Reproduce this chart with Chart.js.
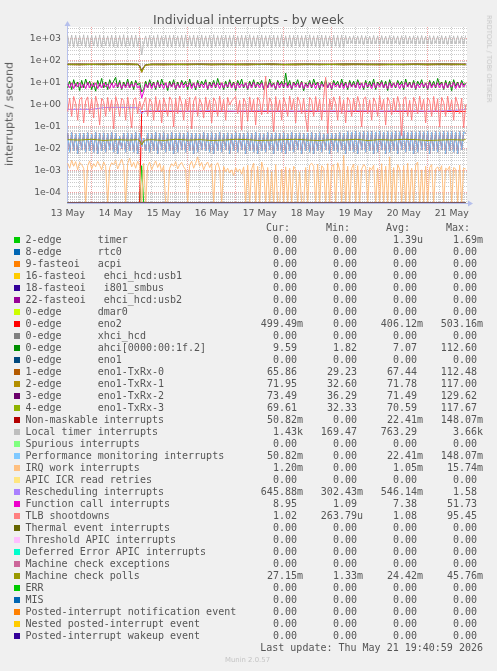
<!DOCTYPE html>
<html>
<head>
<meta charset="utf-8">
<title>Individual interrupts - by week</title>
<script src="https://cdn.jsdelivr.net/npm/chart.js@4.4.1/dist/chart.umd.min.js"></script>
<style>
  html, body { margin:0; padding:0; background:#f0f0f0; }
  #page { position:relative; width:497px; height:671px; overflow:hidden; background:#f0f0f0; }
  #chart { position:absolute; left:0; top:0; }
  .txt { position:absolute; white-space:pre; font-family:"DejaVu Sans", sans-serif; color:#555; }
  .mono { position:absolute; white-space:pre; font-family:"DejaVu Sans Mono", monospace; font-size:10px; line-height:11.64px; color:#555; }
  .sw { position:absolute; width:6px; height:6px; }
</style>
</head>
<body>
<div id="page">
  <canvas id="chart" width="497" height="671"></canvas>
  <div class="txt" style="left:0;width:497px;text-align:center;top:12.9px;font-size:12.5px;line-height:14.55px;color:#555;">Individual interrupts - by week</div>
  <div class="txt" style="left:10px;top:114px;font-size:11px;line-height:12.8px;transform:translate(-50%,-50%) rotate(-90deg);">interrupts / second</div>
  <div class="txt" style="left:488px;top:58.5px;font-size:6.8px;line-height:7.9px;color:#c8c8c8;transform:translate(-50%,-50%) rotate(90deg);">RRDTOOL / TOBI OETIKER</div>
  <div id="legend"></div>
  <div class="txt" style="left:0;width:495px;text-align:center;top:656.3px;font-size:6.9px;line-height:8px;color:#c4c4c4;">Munin 2.0.57</div>
</div>
<script>
// ---------------- time axis (hours since 13 May 00:00) ----------------
const X_MIN = 11 + 40 / 60;          // 13 May 11:40
const X_MAX = 211 + 40 / 60;         // 21 May 19:40
const HOUR0 = 12;                    // first hourly sample: 13 May 12:00
const dayLabels = ["13 May", "14 May", "15 May", "16 May", "17 May", "18 May", "19 May", "20 May", "21 May"];
const yDecades = [-5, -4, -3, -2, -1, 0, 1, 2, 3];
const Y_MIN = Math.pow(10, -4.47);
const Y_MAX = Math.pow(10, 3.546);

// ---------------- hourly series (200 samples, 13 May 12:00 .. 21 May 19:00) ----------------
const localTimer = [
  1450,470,1520,430,1480,460,1400,500,1550,440,1460,420,1500,480,1420,450,1530,430,
  1470,490,1390,460,1510,440,1480,420,1440,470,1560,450,1400,480,1490,430,1520,460,
  1300,190,650,
  1380,450,1490,470,1430,420,1550,460,1410,490,
  1500,440,1460,430,1520,470,1390,450,1480,420,
  1540,460,1420,480,1500,440,1450,430,1530,470,
  1400,450,1490,420,1560,460,1430,490,1470,440,
  1510,430,1440,470,1520,450,1390,480,1500,420,
  1460,460,1550,440,1410,470,1490,430,1530,450,
  1420,490,1480,420,1510,460,1440,440,1570,470,
  1400,450,1500,430,1460,480,1520,440,1430,460,
  1490,420,1540,470,1410,450,1480,430,1520,460,
  1450,490,1390,440,1500,470,1460,420,1530,450,
  1440,600,1350,650,1420,580,1380,620,1460,560,
  1400,640,1370,590,1450,610,1390,570,1430,630,
  1360,600,1440,580,1400,650,1380,560,1420,620,
  1450,590,1370,640,1410,570,1390,610,1440,600,
  1360,630,1420,580,1400,650,1380,590,1430,610,
  1370,570,1450,620,1390,600,1410,640,1380,580,
  1430
];
const ahci = [
  6,12,5,14,7,11,4.5,13,6,15,
  8,12,5,10,4.2,13,7,16,6,11,
  5,14,8,12,18,6,13,5,11,7,
  15,6,12,5,13,8,
  10,3.9,5,
  12,6,14,7,11,5,13,6,15,8,
  10,4.5,12,7,14,5,11,6,13,8,
  12,5,15,7,10,4.8,13,6,12,8,
  14,5,11,7,13,6,16,8,10,5,
  12,6,14,7,11,4.6,13,8,15,6,
  10,5,12,7,14,6,11,8,13,5,
  12,6,15,7,10,5,13,8,12,6,
  28,7,13,5,11,8,14,6,12,4.4,
  10,7,13,6,15,8,11,5,12,7,
  14,6,10,5,13,8,12,6,15,7,
  11,5,13,7,12,6,14,8,10,5,
  13,6,12,7,15,5,11,8,13,6,
  12,4.5,14,7,10,6,13,8,12,5,
  15,7,11,6,13,5,12,8,14,6,
  10,5,13,7,12,6,16,8,11,5,
  13,6,12,4.4,14,7,11,6,13,8,
  9.6
];
const functionCall = [
  9,6,10,5.5,9.5,6.5,10,6,9,5.5,
  10.5,6,9,6.5,10,5.5,9.5,6,10,6.5,
  9,5.5,10,6,9.5,6.5,10,5.5,9,6,
  10.5,6,9,6.5,10,6,
  7,2.0,4,
  9,6,10,5.5,9.5,6,10.5,6.5,9,5.5,
  10,6,9.5,6.5,10,5.5,9,6,10.5,6,
  9,6.5,10,5.5,9.5,6,10,6.5,9,6,
  10.5,5.5,9,6,10,6.5,9.5,5.5,10,6,
  9,6.5,10.5,6,9.5,5.5,10,6,9,6.5,
  10,5.5,9.5,6,10.5,6.5,9,6,10,5.5,
  9.5,6,10,6.5,9,5.5,10.5,6,9.5,6.5,
  10,6,9,5.5,10,6.5,9.5,6,10.5,5.5,
  9,6,10,6.5,9.5,5.5,10,6,9,6.5,
  10.5,6,9.5,5.5,10,6.5,9,6,10,5.5,
  9.5,6,10,6.5,9,6,10.5,5.5,9.5,6,
  10,6.5,9,5.5,10,6,9.5,6.5,10.5,6,
  9,5.5,10,6,9.5,6.5,10,5.5,9,6,
  10.5,6.5,9.5,6,10,5.5,9,6,10,6.5,
  9.5,5.5,10.5,6,9,6.5,10,6,9.5,5.5,
  10,6,9,6.5,10.5,5.5,9.5,6,10,6.5,
  8.95
];
const tlbShootdowns = [
  0.5,2.0,0.3,2.4,1.2,0.2,1.8,2.2,0.15,1.5,
  2.3,0.4,1.9,0.25,2.5,1.0,0.12,2.0,1.4,0.3,
  2.2,0.5,1.7,0.08,2.4,1.1,0.3,2.0,1.6,0.2,
  2.3,0.6,0.09,1.8,2.1,0.4,
  1.5,0.6,1.2,
  2.2,0.3,1.9,1.3,0.2,2.4,0.5,1.7,0.15,2.1,
  1.0,0.3,2.3,1.6,0.1,2.0,0.4,2.5,1.2,0.2,
  1.8,0.5,2.2,0.08,1.5,2.4,0.3,1.9,1.1,0.25,
  2.3,0.6,1.7,0.15,2.1,1.4,0.3,2.5,0.5,1.8,
  0.2,2.2,1.0,1.5,1.9,2.4,0.4,1.6,0.07,2.0,
  1.3,0.18,2.3,0.5,1.8,0.12,2.2,1.5,0.35,1.9,
  20,0.4,2.1,1.2,0.06,2.4,0.5,1.7,0.2,2.2,
  1.1,0.3,2.5,0.6,1.9,0.15,2.3,1.4,0.4,2.0,
  0.25,0.06,2.2,1.6,0.3,2.4,0.5,1.8,0.2,2.1,
  18,0.05,1.9,0.6,2.3,1.2,0.2,2.5,0.4,1.7,
  0.15,2.2,1.5,0.3,2.0,0.5,2.4,1.1,0.1,1.9,
  2.3,0.4,1.7,0.2,2.1,1.3,0.3,2.5,0.6,1.8,
  0.12,2.2,1.4,0.35,2.0,0.5,2.4,1.0,0.04,1.9,
  2.3,0.3,1.6,0.2,2.2,1.2,0.4,2.5,0.6,1.8,
  0.15,2.1,1.5,0.3,2.4,0.5,1.9,0.1,2.2,1.3,
  0.3,2.5,0.6,1.7,0.2,2.3,1.1,0.4,2.0,0.09,
  1.02
];
// Performance monitoring interrupts (Non-maskable interrupts report the same values)
const perfMon = [
  0.05,0.007,0.055,0.008,0.048,0.006,0.052,0.009,0.05,0.007,
  0.054,0.008,0.047,0.007,0.056,0.006,0.05,0.008,0.053,0.007,
  0.049,0.009,0.055,0.007,0.051,0.006,0.037,0.01,0.05,0.007,
  0.053,0.008,0.048,0.007,0.055,0.006,0.05,0.012,0.03,0.008,
  0.052,0.007,0.049,0.008,0.056,0.006,0.05,0.009,0.054,0.007,
  0.048,0.008,0.055,0.006,0.051,0.007,0.053,0.009,0.049,0.007,
  0.056,0.008,0.05,0.006,0.052,0.007,0.048,0.009,0.055,0.008,
  0.051,0.007,0.054,0.006,0.049,0.008,0.056,0.007,0.05,0.009,
  0.053,0.006,0.048,0.008,0.055,0.007,0.051,0.009,0.049,0.006,
  0.054,0.008,0.05,0.007,0.056,0.006,0.052,0.008,0.048,0.007,
  0.055,0.009,0.049,0.006,0.053,0.008,0.05,0.007,0.054,0.006,
  0.048,0.008,0.056,0.007,0.051,0.009,0.053,0.006,0.049,0.008,
  0.052,0.007,0.055,0.006,0.05,0.008,0.054,0.007,0.048,0.009,
  0.056,0.006,0.051,0.008,0.049,0.007,0.055,0.009,0.052,0.006,
  0.06,0.008,0.058,0.007,0.062,0.006,0.057,0.009,0.06,0.007,
  0.059,0.008,0.061,0.006,0.058,0.007,0.062,0.009,0.057,0.006,
  0.06,0.007,0.058,0.008,0.061,0.006,0.059,0.009,0.062,0.007,
  0.057,0.008,0.06,0.006,0.058,0.007,0.061,0.009,0.059,0.008,
  0.062,0.006,0.057,0.008,0.06,0.007,0.058,0.009,0.061,0.006,
  0.059,0.008,0.062,0.007,0.057,0.006,0.06,0.009,0.058,0.051
];
const irqWork = [
  0.0022,0.0013,0.003,0.0016,0.0026,0.0011,0.0024,0.0019,0.0013,0,
  0.0017,0.0028,0.0012,0.0021,0.0015,0.0027,0.0018,0.0011,0.0025,0.0016,
  0,0.0014,0.0023,0.0019,0.0029,0.0012,0.002,0.0033,0.0017,0,
  0.0021,0.0038,0.0015,0.0024,0.0013,0.0027,0.0018,0,0.0022,0,
  0.0016,0.0025,0.0011,0.0019,0.0028,0.0014,0.0022,0.0009,0.0017,0,
  0,0.0013,0.0021,0.0016,0.0026,0.0012,0.0019,0.0024,0.0015,0.0011,
  0,0.0018,0.0027,0.0013,0.0022,0.0043,0.0016,0.0024,0.0011,0.0019,
  0.0025,0.0014,0.0021,0,0.0017,0.0023,0.0012,0,0.0016,0.0009,
  0.0013,0.0008,0.0011,0.0006,0.0014,0.0009,0.0012,0.0007,0.0015,0,
  0.0018,0,0.0012,0.0022,0,0.0016,0,0.0025,0.0011,0,
  0.0014,0,0.0009,0,0.0019,0,0,0.0012,0,0.0015,
  0,0.0013,0,0.0016,0.0011,0,0.0009,0,0,0.0014,
  0,0.0018,0.0022,0.0016,0,0.002,0,0.0017,0.0013,0,
  0.0021,0,0.0015,0.0019,0,0.0023,0.0011,0,0.005,0,
  0.0016,0,0.0013,0.002,0,0.0017,0,0.0012,0.0019,0.0015,
  0,0.0014,0.0011,0.0018,0,0.0013,0,0.0021,0,0.0016,
  0,0.0043,0,0.0014,0,0.0019,0.0012,0,0.0017,0,
  0.0022,0,0.0013,0,0.0018,0.0025,0,0.0011,0,0.0016,
  0,0.0014,0.0019,0,0.0012,0.0015,0.001,0.0017,0,0.0013,
  0.0011,0.0016,0,0.0014,0.0012,0,0.0018,0,0.0013,0.0012
];

// ---------------- sparse series (hours listed explicitly) ----------------
const sparseHours = [12,18,24,30,36,42,47,48,49,50,51,
  54,60,66,72,78,84,90,96,102,108,114,120,126,132,138,144,150,156,162,168,174,180,186,192,198,204,210,
  211];
const timerIrq   = [0,0,0,0,0,0,0,0,0.0017,0,0, 0,0,0,0,0,0,0,0,0,0,0,0,0,0,0,0,0,0,0,0,0,0,0,0,0,0,0, 0];
const eno2       = [0,0,0,0,0,0,0,0,0.5,0.499,0.5, 0.5,0.499,0.5,0.5,0.5,0.499,0.5,0.5,0.5,0.5,0.499,0.5,0.5,0.5,0.5,0.5,0.499,0.5,0.5,0.5,0.5,0.499,0.5,0.5,0.5,0.5,0.5, 0.499];
const txrx0      = [68,66,69,67,70,68,67,55,30,48,64, 67,66,68,67,69,66,68,67,66,69,68,67,66,68,67,69,66,68,67,66,68,67,69,66,68,67,68, 65.9];
const txrx1      = [72,71,73,70,72,74,71,58,33,50,68, 72,71,73,72,70,72,71,73,72,71,72,70,73,72,71,72,73,71,72,70,72,71,73,72,71,72,71, 72];
const txrx2      = [71,72,70,73,71,72,70,60,37,52,67, 71,72,70,71,73,71,72,70,72,71,73,70,71,72,71,70,72,73,71,72,70,71,72,71,73,72,71, 73.5];
const txrx3      = [70,71,69,72,70,71,70,56,33,49,66, 70,71,69,70,72,70,71,69,71,70,72,69,70,71,70,69,71,72,70,71,69,70,71,70,72,71,70, 69.6];
const rescheduling = [0.62,0.63,0.62,0.75,0.77,0.76,0.74,0.62,0.4,0.5,0.53, 0.53,0.54,0.53,0.52,0.53,0.54,0.53,0.52,0.53,0.54,0.53,0.53,0.52,0.54,0.53,0.53,0.52,0.54,0.53,0.52,0.53,0.54,0.53,0.52,0.53,0.55,0.6, 0.65];
const mcPolls    = [0.026,0.025,0.027,0.024,0.026,0.025,0.026,0.024,0.015,0.022,0.025, 0.026,0.024,0.027,0.025,0.026,0.024,0.025,0.027,0.026,0.024,0.025,0.026,0.027,0.025,0.024,0.026,0.025,0.027,0.024,0.026,0.025,0.027,0.026,0.024,0.025,0.026,0.025, 0.027];
const zeroHours  = [12, 211];
const zeroVals   = [0, 0];

// ---------------- legend ----------------
const names = ["2-edge      timer","8-edge      rtc0","9-fasteoi   acpi","16-fasteoi   ehci_hcd:usb1","18-fasteoi   i801_smbus",
  "22-fasteoi   ehci_hcd:usb2","0-edge      dmar0","0-edge      eno2","0-edge      xhci_hcd","0-edge      ahci[0000:00:1f.2]",
  "0-edge      eno1","1-edge      eno1-TxRx-0","2-edge      eno1-TxRx-1","3-edge      eno1-TxRx-2","4-edge      eno1-TxRx-3",
  "Non-maskable interrupts","Local timer interrupts","Spurious interrupts","Performance monitoring interrupts","IRQ work interrupts",
  "APIC ICR read retries","Rescheduling interrupts","Function call interrupts","TLB shootdowns","Thermal event interrupts",
  "Threshold APIC interrupts","Deferred Error APIC interrupts","Machine check exceptions","Machine check polls","ERR",
  "MIS","Posted-interrupt notification event","Nested posted-interrupt event","Posted-interrupt wakeup event"];
const colors = ["#00CC00","#0066B3","#FF8000","#FFCC00","#330099","#990099","#CCFF00","#FF0000","#808080","#008F00",
  "#00487D","#B35A00","#B38F00","#6B006B","#8FB300","#B30000","#BEBEBE","#80FF80","#80C9FF","#FFC080",
  "#FFE680","#AA80FF","#EE00CC","#FF8080","#666600","#FFBFFF","#00FFCC","#CC6699","#999900","#00CC00",
  "#0066B3","#FF8000","#FFCC00","#330099"];
const curVals = ["0.00","0.00","0.00","0.00","0.00","0.00","0.00","499.49m","0.00","9.59","0.00","65.86","71.95","73.49","69.61",
  "50.82m","1.43k","0.00","50.82m","1.20m","0.00","645.88m","8.95","1.02","0.00","0.00","0.00","0.00","27.15m","0.00","0.00","0.00","0.00","0.00"];
const minVals = ["0.00","0.00","0.00","0.00","0.00","0.00","0.00","0.00","0.00","1.82","0.00","29.23","32.60","36.29","32.33",
  "0.00","169.47","0.00","0.00","0.00","0.00","302.43m","1.09","263.79u","0.00","0.00","0.00","0.00","1.33m","0.00","0.00","0.00","0.00","0.00"];
const avgVals = ["1.39u","0.00","0.00","0.00","0.00","0.00","0.00","406.12m","0.00","7.07","0.00","67.44","71.78","71.49","70.59",
  "22.41m","763.29","0.00","22.41m","1.05m","0.00","546.14m","7.38","1.08","0.00","0.00","0.00","0.00","24.42m","0.00","0.00","0.00","0.00","0.00"];
const maxVals = ["1.69m","0.00","0.00","0.00","0.00","0.00","0.00","503.16m","0.00","112.60","0.00","112.48","117.00","129.62","117.67",
  "148.07m","3.66k","0.00","148.07m","15.74m","0.00","1.58","51.73","95.45","0.00","0.00","0.00","0.00","45.76m","0.00","0.00","0.00","0.00","0.00"];
const lastUpdate = "Last update: Thu May 21 19:40:59 2026";

// ---------------- sanity checks ----------------
[["localTimer",localTimer],["ahci",ahci],["functionCall",functionCall],["tlbShootdowns",tlbShootdowns],["perfMon",perfMon],["irqWork",irqWork]]
  .forEach(([n,a]) => { if (a.length !== 200) throw new Error(n + " has " + a.length); });
[["timerIrq",timerIrq],["eno2",eno2],["txrx0",txrx0],["txrx1",txrx1],["txrx2",txrx2],["txrx3",txrx3],["rescheduling",rescheduling],["mcPolls",mcPolls]]
  .forEach(([n,a]) => { if (a.length !== sparseHours.length) throw new Error(n + " has " + a.length); });

// ---------------- build chart ----------------
const hourly = localTimer.map((_, i) => HOUR0 + i);
function pts(hours, vals) { return vals.map((v, i) => ({ x: hours[i], y: v > 0 ? v : Y_MIN })); }
const Z = pts(zeroHours, zeroVals);
const seriesPoints = [
  pts(sparseHours, timerIrq), Z, Z, Z, Z, Z, Z,
  pts(sparseHours, eno2), Z,
  pts(hourly, ahci), Z,
  pts(sparseHours, txrx0), pts(sparseHours, txrx1), pts(sparseHours, txrx2), pts(sparseHours, txrx3),
  pts(hourly, perfMon),
  pts(hourly, localTimer), Z,
  pts(hourly, perfMon),
  pts(hourly, irqWork), Z,
  pts(sparseHours, rescheduling),
  pts(hourly, functionCall),
  pts(hourly, tlbShootdowns),
  Z, Z, Z, Z,
  pts(sparseHours, mcPolls),
  Z, Z, Z, Z, Z
];
const N = names.length;
const datasets = seriesPoints.map((p, i) => ({
  label: names[i], data: p, borderColor: colors[i], backgroundColor: colors[i],
  borderWidth: 1, pointRadius: 0, tension: 0, fill: false, order: N - i
}));

const xTicks = [];
for (let h = 12; h <= 210; h += 6) xTicks.push({ value: h, major: h % 24 === 0 });
const yTicks = [];
yDecades.forEach(d => { for (let k = 1; k <= 9; k++) { const v = k * Math.pow(10, d); if (v >= Y_MIN && v <= Y_MAX) yTicks.push({ value: v, major: k === 1, dec: d }); } });

const GRID_MINOR = 'rgba(140,140,140,0.45)';
const GRID_MAJOR = 'rgba(220,70,70,0.5)';
const AXIS = '#b6c0ec';

const munin = {
  id: 'munin',
  beforeDraw(c) {
    const { ctx, chartArea: a } = c;
    ctx.save(); ctx.fillStyle = '#ffffff';
    ctx.fillRect(a.left, a.top, a.right - a.left, a.bottom - a.top);
    ctx.restore();
  },
  afterDraw(c) {
    const { ctx, chartArea: a } = c;
    ctx.save(); ctx.fillStyle = AXIS; ctx.strokeStyle = AXIS; ctx.lineWidth = 1;
    ctx.beginPath(); ctx.moveTo(a.left + 0.5, a.top); ctx.lineTo(a.left + 0.5, a.top - 2); ctx.stroke();
    ctx.beginPath(); ctx.moveTo(a.left - 2.5, a.top - 1); ctx.lineTo(a.left + 3.5, a.top - 1); ctx.lineTo(a.left + 0.5, a.top - 6); ctx.closePath(); ctx.fill();
    ctx.beginPath(); ctx.moveTo(a.right, a.bottom + 0.5); ctx.lineTo(a.right + 2, a.bottom + 0.5); ctx.stroke();
    ctx.beginPath(); ctx.moveTo(a.right + 1, a.bottom - 2.5); ctx.lineTo(a.right + 1, a.bottom + 3.5); ctx.lineTo(a.right + 6, a.bottom + 0.5); ctx.closePath(); ctx.fill();
    ctx.restore();
  }
};

Chart.defaults.font.family = "'DejaVu Sans', sans-serif";
new Chart(document.getElementById('chart'), {
  type: 'line',
  data: { datasets },
  plugins: [munin],
  options: {
    responsive: false, devicePixelRatio: 1, animation: false, events: [],
    layout: { padding: { left: 0, top: 27, right: 30, bottom: 448 } },
    plugins: { legend: { display: false }, tooltip: { enabled: false }, title: { display: false } },
    scales: {
      x: {
        type: 'linear', min: X_MIN, max: X_MAX,
        afterFit: s => { s.height = 20; },
        afterBuildTicks: s => { s.ticks = xTicks.map(t => ({ ...t })); },
        ticks: {
          autoSkip: false, maxRotation: 0, padding: 5, color: '#555', font: { size: 9.3 },
          callback: (v) => (v % 24 === 12 ? dayLabels[(v - 12) / 24] : '')
        },
        grid: { drawTicks: false, lineWidth: 1, color: ctx => (ctx.tick && ctx.tick.major ? GRID_MAJOR : GRID_MINOR) },
        border: { display: true, color: AXIS, width: 1, dash: [1, 1] }
      },
      y: {
        type: 'logarithmic', min: Y_MIN, max: Y_MAX,
        afterFit: s => { s.width = 67; },
        afterBuildTicks: s => { s.ticks = yTicks.map(t => ({ ...t })); },
        ticks: {
          autoSkip: false, padding: 6, color: '#555', font: { size: 9.3 },
          callback: (v, i, ticks) => {
            const t = ticks[i];
            if (!t || !t.major) return '';
            const n = t.dec;
            return '1e' + (n < 0 ? '-' : '+') + String(Math.abs(n)).padStart(2, '0');
          }
        },
        grid: { drawTicks: false, lineWidth: 1, color: ctx => (ctx.tick && ctx.tick.major ? GRID_MAJOR : GRID_MINOR) },
        border: { display: true, color: AXIS, width: 1, dash: [1, 1] }
      }
    }
  }
});

// ---------------- legend (HTML text) ----------------
const legend = document.getElementById('legend');
function addText(cls, text, style) {
  const d = document.createElement('div'); d.className = cls; d.textContent = text;
  Object.assign(d.style, style); legend.appendChild(d); return d;
}
const headTop = 222.4;
[["Cur:", 266], ["Min:", 326], ["Avg:", 386], ["Max:", 446]].forEach(([t, l]) => addText('mono', t, { left: l + 'px', top: headTop + 'px' }));
const colRights = [194, 134, 74, 14];
function fmt(s) { return /[a-z]$/i.test(s) ? s : s + ' '; }
names.forEach((n, i) => {
  const top = 234.4 + 12 * i;
  const sw = document.createElement('div'); sw.className = 'sw';
  sw.style.left = '14px'; sw.style.top = (237 + 12 * i) + 'px'; sw.style.background = colors[i];
  legend.appendChild(sw);
  addText('mono', n, { left: '25.5px', top: top + 'px' });
  [curVals, minVals, avgVals, maxVals].forEach((arr, c) => addText('mono', fmt(arr[i]), { right: colRights[c] + 'px', top: top + 'px', textAlign: 'right' }));
});
addText('mono', lastUpdate, { right: '14px', top: '641.7px', textAlign: 'right' });
</script>
</body>
</html>
